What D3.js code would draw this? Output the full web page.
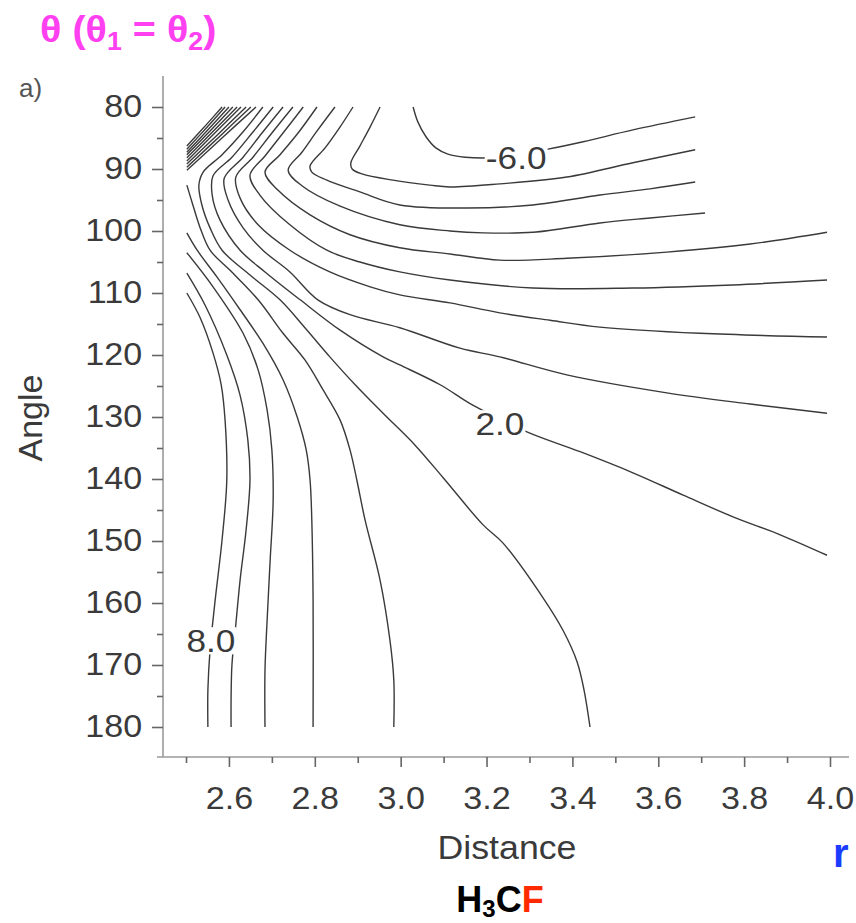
<!DOCTYPE html>
<html>
    <head>
        <title></title>
        <style>
         body { margin: 0; background: #fff; }
         svg { font-family: "Liberation Sans", Arial, sans-serif; }
         .contours path { fill: none; stroke: #3a3a3a; stroke-width: 1.4px; }
         .tick text { fill: #3a3a3a; }
        </style>
    </head>
    <body>
        <svg width="856" height="923"></svg>

        <script src="https://cdn.jsdelivr.net/npm/d3@7"></script>
        <script>

         // contour lines, [distance, angle]
         var lineM6 = [[3.029,80],[3.040,82.4],[3.059,84.8],[3.082,86.6],[3.110,87.6],[3.150,88.1],[3.231,88.1],[3.343,86.8],[3.425,85.6],[3.541,83.7],[3.686,81.6]];
         var lineM5 = [[2.952,80],[2.929,83.2],[2.905,86.3],[2.884,89.0],[2.887,90.0],[2.910,90.8],[2.982,91.8],[3.068,92.6],[3.115,92.9],[3.231,92.4],[3.387,91.3],[3.541,89.0],[3.686,86.9]];
         var lineM4 = [[2.889,80],[2.859,83.2],[2.824,86.6],[2.789,89.5],[2.793,90.5],[2.828,91.8],[2.905,93.7],[2.998,95.8],[3.155,96.3],[3.308,95.8],[3.464,94.2],[3.581,93.2],[3.686,92.1]];
         var lineM3 = [[2.847,80],[2.807,83.7],[2.770,87.3],[2.738,90.2],[2.770,92.7],[2.859,96.0],[2.998,99.0],[3.115,100.0],[3.192,100.3],[3.308,100.2],[3.464,98.7],[3.581,97.9],[3.709,97.1]];
         var lineM2 = [[2.805,80],[2.761,84.2],[2.719,87.7],[2.684,90.5],[2.714,93.4],[2.789,97.4],[2.882,100.6],[2.998,102.7],[3.115,103.7],[3.231,104.7],[3.387,104.4],[3.620,103.4],[3.814,102.1],[3.993,100.2]];
         var lineM1 = [[2.773,80],[2.726,84.2],[2.684,87.9],[2.649,91.0],[2.672,94.2],[2.742,99.0],[2.828,103.1],[2.905,105.0],[2.998,106.6],[3.115,107.9],[3.308,109.2],[3.541,109.2],[3.774,108.7],[3.993,107.9]];
         var line0 = [[2.749,80],[2.700,84.2],[2.656,88.1],[2.616,91.3],[2.626,94.7],[2.668,99.0],[2.742,103.1],[2.835,106.6],[2.929,109.0],[2.998,110.3],[3.115,111.6],[3.231,113.2],[3.348,114.4],[3.464,115.5],[3.697,116.5],[3.993,117.1]];
         var line1 = [[2.726,80],[2.677,84.2],[2.633,88.1],[2.589,91.5],[2.598,95.0],[2.633,99.5],[2.679,103.1],[2.742,106.6],[2.807,111.1],[2.882,113.5],[2.998,115.6],[3.138,118.9],[3.231,120.3],[3.387,123.2],[3.620,126.1],[3.814,127.9],[3.993,129.4]];
         var line2 = [[2.703,80],[2.654,84.2],[2.607,88.1],[2.563,91.1],[2.561,94.2],[2.579,98.2],[2.626,103.1],[2.684,106.6],[2.766,111.1],[2.859,116.0],[2.959,120.3],[2.998,121.6],[3.092,124.8],[3.168,128.1],[3.294,132.4],[3.418,135.6],[3.541,139.0],[3.658,142.6],[3.774,146.1],[3.884,149.0],[3.993,152.3]];
         var line3 = [[2.679,80],[2.633,84.0],[2.584,87.7],[2.540,90.5],[2.530,92.6],[2.537,95.8],[2.556,99.5],[2.584,103.1],[2.649,107.1],[2.719,111.1],[2.777,115.6],[2.835,120.3],[2.894,124.8],[2.959,129.4],[3.033,134.5],[3.099,139.8],[3.192,147.4],[3.238,150.3],[3.332,159.2],[3.378,164.4],[3.411,169.5],[3.427,174.0],[3.441,180]];
         var line4 = [[2.502,92.6],[2.516,95.8],[2.533,99.5],[2.556,103.1],[2.602,106.3],[2.668,111.1],[2.726,116.5],[2.777,120.8],[2.819,125.6],[2.859,130.5],[2.882,135.3],[2.898,140.2],[2.917,146.6],[2.952,156.3],[2.975,166.0],[2.984,172.4],[2.984,180]];
         var line5 = [[2.502,100.3],[2.526,103.1],[2.572,107.4],[2.626,112.7],[2.679,118.1],[2.726,124.0],[2.759,130.0],[2.780,135.3],[2.789,140.2],[2.793,146.6],[2.796,159.5],[2.796,180]];
         var line6 = [[2.502,103.5],[2.563,109.0],[2.633,116.5],[2.668,122.4],[2.689,128.9],[2.700,135.3],[2.703,143.4],[2.696,153.1],[2.689,162.7],[2.684,170.8],[2.684,180]];
         var line7 = [[2.502,106.8],[2.544,111.9],[2.595,120.0],[2.626,126.5],[2.644,133.7],[2.649,140.2],[2.640,148.2],[2.626,156.3],[2.616,163.5],[2.607,170.0],[2.605,175.6],[2.605,180]];
         var line8 = [[2.502,110.0],[2.533,114.0],[2.563,119.7],[2.582,124.8],[2.591,130.5],[2.595,140.2],[2.584,149.8],[2.568,159.5],[2.556,167.6],[2.551,174.0],[2.551,180]];

         // the packed lines in the top left corner (levels 4 to 12)
         var fan4  = [[2.663,80],[2.587,84.8],[2.502,90.2]];
         var fan5  = [[2.651,80],[2.582,84.5],[2.502,89.7]];
         var fan6  = [[2.640,80],[2.576,84.3],[2.502,89.2]];
         var fan7  = [[2.628,80],[2.570,84.0],[2.502,88.7]];
         var fan8  = [[2.619,80],[2.565,83.8],[2.502,88.2]];
         var fan9  = [[2.609,80],[2.561,83.5],[2.502,87.7]];
         var fan10 = [[2.600,80],[2.556,83.3],[2.502,87.3]];
         var fan11 = [[2.591,80],[2.551,83.1],[2.502,86.8]];
         var fan12 = [[2.584,80],[2.548,82.8],[2.502,86.3]];

         var contourLabels = ['-6.0', '2.0', '8.0'];
         var labelSpots = [[3.269,88.2],[3.231,131.0],[2.558,166.0]];

         var xTicks = [2.6, 2.8, 3.0, 3.2, 3.4, 3.6, 3.8, 4.0];
         var xMinor = [2.5, 2.7, 2.9, 3.1, 3.3, 3.5, 3.7, 3.9];
         var yTicks = [80, 90, 100, 110, 120, 130, 140, 150, 160, 170, 180];
         var yMinor = [85, 95, 105, 115, 125, 135, 145, 155, 165, 175];

         var svg = d3.select('svg');

         var x = d3.scaleLinear().domain([2.5, 4.0]).range([186, 830]);
         var y = d3.scaleLinear().domain([80, 180]).range([107, 727]);

         var axisColor = '#9a9a9a';
         var textColor = '#3a3a3a';

         // axis lines
         svg.append('line')
            .attr('x1', 163).attr('x2', 163)
            .attr('y1', 76).attr('y2', 757)
            .attr('stroke', axisColor).attr('stroke-width', 1.6);
         svg.append('line')
            .attr('x1', 157).attr('x2', 849)
            .attr('y1', 757).attr('y2', 757)
            .attr('stroke', axisColor).attr('stroke-width', 1.6);

         // y axis
         svg.append('g')
            .attr('transform', 'translate(163,0)')
            .call(d3.axisLeft(y).tickValues(yTicks).tickSize(11).tickPadding(8));
         svg.append('g')
            .attr('transform', 'translate(163,0)')
            .call(d3.axisLeft(y).tickValues(yMinor).tickSize(6).tickFormat(''));

         // x axis
         svg.append('g')
            .attr('transform', 'translate(0,757)')
            .call(d3.axisBottom(x).tickValues(xTicks).tickSize(10).tickPadding(20)
                    .tickFormat(d3.format('.1f')));
         svg.append('g')
            .attr('transform', 'translate(0,757)')
            .call(d3.axisBottom(x).tickValues(xMinor).tickSize(6).tickFormat(''));

         svg.selectAll('.domain').remove();
         svg.selectAll('.tick line').attr('stroke', '#666').attr('stroke-width', 1.6);
         svg.selectAll('.tick text')
            .attr('font-size', 31)
            .attr('font-family', '"Liberation Sans", Arial, sans-serif')
            .attr('transform', 'scale(1.1,1)');

         // contours
         var lineGen = d3.line()
                         .x(function(d) { return x(d[0]); })
                         .y(function(d) { return y(d[1]); })
                         .curve(d3.curveCatmullRom.alpha(0.5));

         var allLines = [lineM6, lineM5, lineM4, lineM3, lineM2, lineM1, line0, line1, line2,
                         line3, line4, line5, line6, line7, line8,
                         fan4, fan5, fan6, fan7, fan8, fan9, fan10, fan11, fan12];

         svg.append('g')
            .attr('class', 'contours')
            .selectAll('path')
            .data(allLines)
            .enter()
            .append('path')
            .attr('d', lineGen);

         // contour labels, with a white box that breaks the line
         var lab = svg.append('g')
                      .selectAll('g')
                      .data(contourLabels)
                      .enter()
                      .append('g')
                      .attr('transform', function(d, i) {
                          return 'translate(' + x(labelSpots[i][0]) + ',' + y(labelSpots[i][1]) + ') scale(1.1,1)';
                      });
         lab.append('text')
            .attr('text-anchor', 'middle')
            .attr('dy', '0.36em')
            .attr('font-size', 32)
            .attr('fill', textColor)
            .text(function(d) { return d; });
         lab.each(function() {
             var g = d3.select(this);
             var b = g.select('text').node().getBBox();
             g.insert('rect', 'text')
              .attr('x', b.x - 1).attr('y', b.y + 4)
              .attr('width', b.width + 2).attr('height', b.height - 8)
              .attr('fill', '#fff');
         });

         // axis titles
         svg.append('text')
            .attr('transform', 'translate(42,418) rotate(-90)')
            .attr('text-anchor', 'middle')
            .attr('font-size', 34)
            .attr('fill', textColor)
            .text('Angle');
         svg.append('text')
            .attr('transform', 'translate(507,859) scale(1.05,1)')
            .attr('text-anchor', 'middle')
            .attr('font-size', 34)
            .attr('fill', textColor)
            .text('Distance');

         svg.append('text')
            .attr('x', 19).attr('y', 97)
            .attr('font-size', 26)
            .attr('fill', '#555')
            .text('a)');

         // magenta title
         var title = svg.append('text')
                        .attr('transform', 'translate(40,42) scale(1.07,1)')
                        .attr('font-size', 37)
                        .attr('font-weight', 'bold')
                        .attr('fill', '#ff40f0');
         title.append('tspan').text('θ (θ');
         title.append('tspan').attr('font-size', 25).attr('dy', 8).text('1');
         title.append('tspan').attr('dy', -8).text(' = θ');
         title.append('tspan').attr('font-size', 25).attr('dy', 8).text('2');
         title.append('tspan').attr('dy', -8).text(')');

         svg.append('text')
            .attr('x', 833).attr('y', 867)
            .attr('font-size', 40)
            .attr('font-weight', 'bold')
            .attr('fill', '#1a3cff')
            .text('r');

         var mol = svg.append('text')
                      .attr('x', 500).attr('y', 912)
                      .attr('text-anchor', 'middle')
                      .attr('font-size', 36)
                      .attr('font-weight', 'bold')
                      .attr('fill', '#000');
         mol.append('tspan').text('H');
         mol.append('tspan').attr('font-size', 24).attr('dy', 5).text('3');
         mol.append('tspan').attr('dy', -5).text('C');
         mol.append('tspan').attr('fill', '#ff2a00').text('F');

        </script>
    </body>
</html>
